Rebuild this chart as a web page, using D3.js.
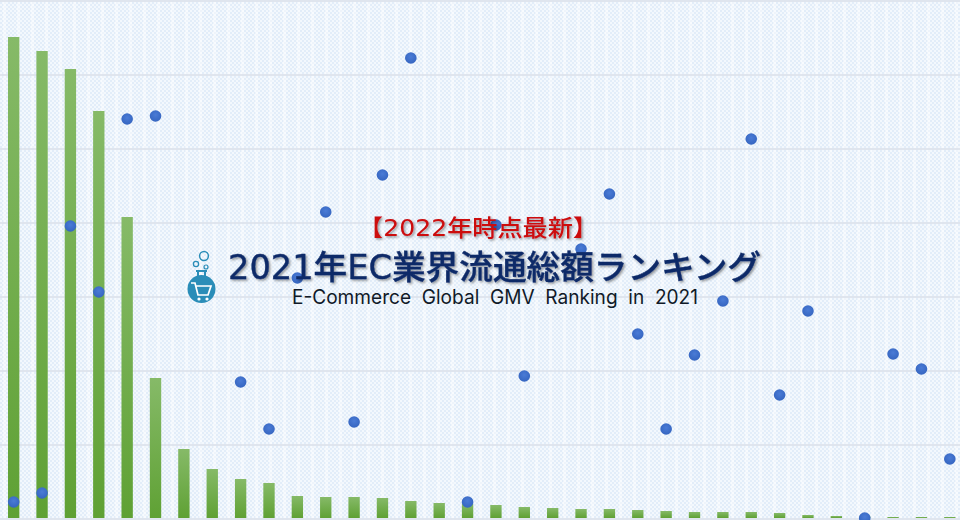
<!DOCTYPE html>
<html><head><meta charset="utf-8">
<script src="https://cdn.jsdelivr.net/npm/d3@7"></script>
<style>html,body{margin:0;padding:0;background:#fff;overflow:hidden}svg{display:block}</style>
</head><body><svg id="c" width="960" height="520"></svg>
<script>
const ranks = d3.range(1,35);
const gmv = [481,467,449,407,301,140,69,49,39,35,22,21,21,20,17,15,14,13,11,10,9,9,8,7,6,6,6,5,3,2,1.5,1,1,1];
const share = [16,25,292,226,399,402,null,null,136,89,240,306,96,343,460,null,16,293,142,null,269,324,184,89,163,217,379,123,207,null,0,164,149,59];
const gridTicks = d3.range(0,8);
const kicker = "【2022年時点最新】";
const title = "2021年EC業界流通総額ランキング";
const subtitle = "E-Commerce  Global  GMV  Ranking  in  2021";

const svg = d3.select("#c");
const x = d3.scaleBand().domain(ranks).range([-0.5,964]).paddingInner(0.6).paddingOuter(0.3);
const yBar = d3.scaleLinear().domain([0,518]).range([518,0]);
const yDot = d3.scaleLinear().domain([0,518]).range([518,0]);
const yGrid = d3.scaleLinear().domain([0,7]).range([518,0]);

const defs = svg.append("defs");
const p = defs.append("pattern").attr("id","bg").attr("width",4).attr("height",4).attr("patternUnits","userSpaceOnUse");
p.append("rect").attr("width",4).attr("height",4).attr("fill","#e2edf9");
p.append("rect").attr("width",2).attr("height",2).attr("fill","#f3f8fd");
p.append("rect").attr("x",2).attr("y",2).attr("width",2).attr("height",2).attr("fill","#f3f8fd");
const st = defs.append("pattern").attr("id","stripes").attr("width",14).attr("height",4).attr("patternUnits","userSpaceOnUse");
st.append("rect").attr("x",3).attr("width",3).attr("height",4).attr("fill","#ffffff").attr("fill-opacity",.4);
const g = defs.append("linearGradient").attr("id","bar").attr("x1",0).attr("y1",0).attr("x2",0).attr("y2",1);
g.append("stop").attr("offset",0).attr("stop-color","#86ba68");
g.append("stop").attr("offset",1).attr("stop-color","#5fa134");
const d = defs.append("radialGradient").attr("id","dot").attr("cx",.5).attr("cy",.4).attr("r",.6);
d.append("stop").attr("offset",0).attr("stop-color","#4a7bd6");
d.append("stop").attr("offset",1).attr("stop-color","#3565c0");
const sh = defs.append("filter").attr("id","sh").attr("x","-5%").attr("y","-20%").attr("width","110%").attr("height","140%");
sh.append("feDropShadow").attr("dx",1.5).attr("dy",1.5).attr("stdDeviation",.9).attr("flood-color","#000").attr("flood-opacity",.4);

svg.append("rect").attr("width",960).attr("height",520).attr("fill","url(#bg)");
svg.append("rect").attr("width",960).attr("height",520).attr("fill","url(#stripes)");
svg.append("g").selectAll("line").data(gridTicks).join("line")
  .attr("x1",0).attr("x2",960).attr("y1",v=>yGrid(v)+1).attr("y2",v=>yGrid(v)+1)
  .attr("stroke","#dfe5ee").attr("stroke-width",1.8);
svg.append("g").selectAll("rect").data(ranks).join("rect")
  .attr("x",r=>x(r)).attr("width",x.bandwidth())
  .attr("y",(r,i)=>yBar(gmv[i])).attr("height",(r,i)=>yBar(0)-yBar(gmv[i]))
  .attr("fill","url(#bar)");
svg.append("g").selectAll("circle").data(ranks.filter((r,i)=>share[i]!==null)).join("circle")
  .attr("cx",r=>x(r)+x.bandwidth()/2).attr("cy",r=>yDot(share[r-1])).attr("r",5.8).attr("fill","url(#dot)");

const ff = "'DejaVu Sans','Noto Sans CJK JP',sans-serif";
function fit(text,xx,base,w,size,fill,weight,fam){
  return svg.append("text").attr("x",xx).attr("y",base).attr("font-family",fam||ff)
   .attr("font-size",size).attr("font-weight",weight||400).attr("fill",fill)
   .attr("textLength",w).attr("lengthAdjust","spacingAndGlyphs").style("white-space","pre").text(text);
}
fit(kicker,358,236,240,23,"#cc0a10",500).attr("filter","url(#sh)");
fit(title,228,279,533,33,"#0d2a68",500).attr("stroke","#0d2a68").attr("stroke-width",.35).attr("filter","url(#sh)");
fit(subtitle,292,304,406,19.5,"#101a28",400,"Inter,Roboto,sans-serif");

const ic = svg.append("g");
const blue = "#2a8db8";
ic.append("path").attr("d","M196,271H207M198,271V280L190,288M205,271V280L213,288").attr("fill","none").attr("stroke",blue).attr("stroke-width",2);
ic.append("circle").attr("cx",201.5).attr("cy",289).attr("r",14).attr("fill",blue);
ic.append("path").attr("d","M191,283H195L198,295H208L211,286H196").attr("fill","none").attr("stroke","#fff").attr("stroke-width",1.7);
ic.append("circle").attr("cx",199).attr("cy",299).attr("r",1.6).attr("fill","#fff");
ic.append("circle").attr("cx",207).attr("cy",299).attr("r",1.6).attr("fill","#fff");
[[204,256,4.4,1.5],[196,264,2.6,1.3],[206,267,2,1.2]].forEach(c=>ic.append("circle").attr("cx",c[0]).attr("cy",c[1]).attr("r",c[2]).attr("fill","none").attr("stroke",blue).attr("stroke-width",c[3]));
</script></body></html>
